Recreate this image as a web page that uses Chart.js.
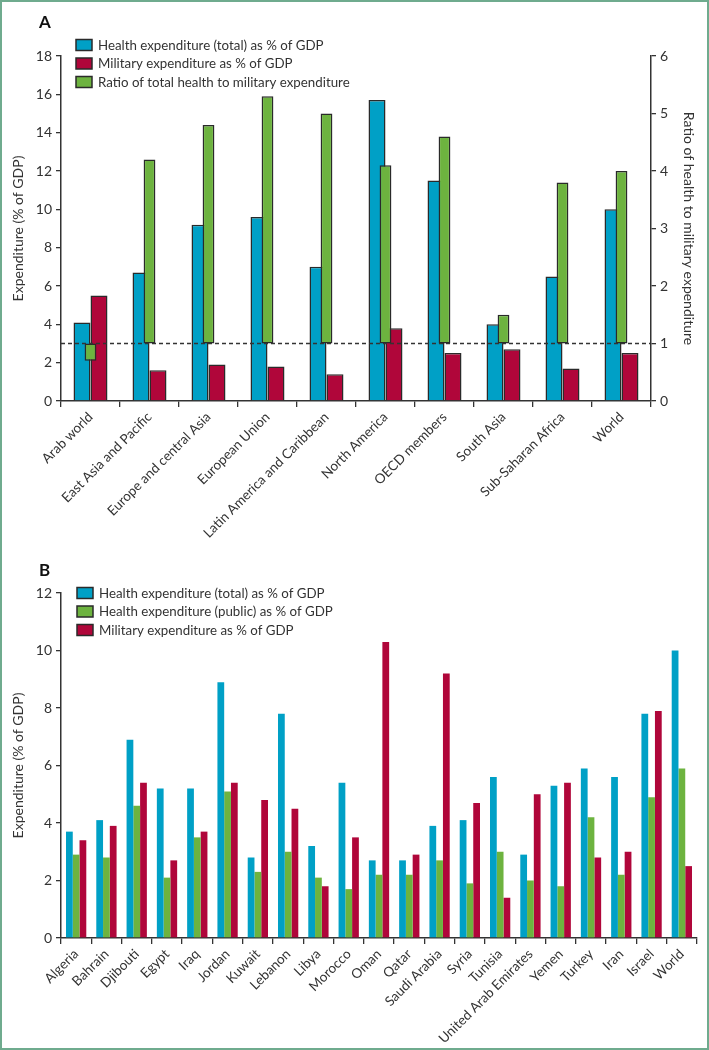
<!DOCTYPE html>
<html>
<head>
<meta charset="utf-8">
<script src="https://cdn.jsdelivr.net/npm/chart.js@4.4.0/dist/chart.umd.min.js"></script>
<style>
  body { margin: 0; background: #fff; }
  #page { position: relative; width: 709px; height: 1050px; }
  #frame { position: absolute; left: 0; top: 0; width: 709px; height: 1050px; box-sizing: border-box; border: 2px solid #6fab8e; pointer-events: none; }
  canvas { position: absolute; left: 0; }
  #chartA { top: 0; }
  #chartB { top: 560px; }
</style>
</head>
<body>
<div id="page">
  <canvas id="chartA" width="709" height="560"></canvas>
  <canvas id="chartB" width="709" height="490"></canvas>
  <div id="frame"></div>
</div>
<script>
// ---------- panel A data ----------
const regions = ['Arab world', 'East Asia and Pacific', 'Europe and central Asia', 'European Union',
  'Latin America and Caribbean', 'North America', 'OECD members', 'South Asia', 'Sub-Saharan Africa', 'World'];
const healthTotalA = [4.1, 6.7, 9.2, 9.6, 7.0, 15.7, 11.5, 4.0, 6.5, 10.0];
const militaryA = [5.5, 1.6, 1.9, 1.8, 1.4, 3.8, 2.5, 2.7, 1.7, 2.5];
const ratioA = [0.7, 4.2, 4.8, 5.3, 5.0, 4.1, 4.6, 1.5, 3.8, 4.0];
const ratioBase = 1; // green bars float from ratio 1 (dashed line)
const legendA = ['Health expenditure (total) as % of GDP', 'Military expenditure as % of GDP',
  'Ratio of total health to military expenditure'];
const yTicksA = [0, 2, 4, 6, 8, 10, 12, 14, 16, 18];
const y1TicksA = [0, 1, 2, 3, 4, 5, 6];

// ---------- panel B data ----------
const countries = ['Algeria', 'Bahrain', 'Djibouti', 'Egypt', 'Iraq', 'Jordan', 'Kuwait', 'Lebanon', 'Libya',
  'Morocco', 'Oman', 'Qatar', 'Saudi Arabia', 'Syria', 'Tunisia', 'United Arab Emirates', 'Yemen', 'Turkey',
  'Iran', 'Israel', 'World'];
const healthTotalB = [3.7, 4.1, 6.9, 5.2, 5.2, 8.9, 2.8, 7.8, 3.2, 5.4, 2.7, 2.7, 3.9, 4.1, 5.6, 2.9, 5.3, 5.9, 5.6, 7.8, 10.0];
const healthPublicB = [2.9, 2.8, 4.6, 2.1, 3.5, 5.1, 2.3, 3.0, 2.1, 1.7, 2.2, 2.2, 2.7, 1.9, 3.0, 2.0, 1.8, 4.2, 2.2, 4.9, 5.9];
const militaryB = [3.4, 3.9, 5.4, 2.7, 3.7, 5.4, 4.8, 4.5, 1.8, 3.5, 10.3, 2.9, 9.2, 4.7, 1.4, 5.0, 5.4, 2.8, 3.0, 7.9, 2.5];
const legendB = ['Health expenditure (total) as % of GDP', 'Health expenditure (public) as % of GDP',
  'Military expenditure as % of GDP'];
const yTicksB = [0, 2, 4, 6, 8, 10, 12];

const BLUE = '#00a0c6';
const RED = '#b0063a';
const GREEN = '#6db33f';
const INK = '#333333';
const FONT = 'Lato';

Chart.defaults.font.family = FONT;
Chart.defaults.color = INK;
Chart.defaults.animation = false;

// legend boxes + panel letter, drawn inside the chart area
function panelDecor(letter, labels, colors, boxX, firstRowY, rowH) {
  return {
    id: 'panelDecor',
    afterDraw(chart) {
      const ctx = chart.ctx;
      ctx.save();
      ctx.fillStyle = '#111';
      ctx.font = 'bold 17px ' + FONT;
      ctx.textBaseline = 'alphabetic';
      ctx.fillText(letter, 39, firstRowY - 17);
      ctx.font = '13.3px ' + FONT;
      ctx.textBaseline = 'middle';
      labels.forEach((txt, i) => {
        const y = firstRowY + i * rowH;
        ctx.fillStyle = colors[i];
        ctx.fillRect(boxX, y - 5.5, 16, 11);
        ctx.strokeStyle = '#2a2a2a';
        ctx.lineWidth = 1.5;
        ctx.strokeRect(boxX, y - 5.5, 16, 11);
        ctx.fillStyle = INK;
        ctx.fillText(txt, boxX + 22, y + 0.5);
      });
      ctx.restore();
    }
  };
}

// dashed reference line at ratio = 1
const ratioLine = {
  id: 'ratioLine',
  afterDatasetsDraw(chart) {
    const {ctx, chartArea, scales} = chart;
    const y = scales.y1.getPixelForValue(ratioBase);
    ctx.save();
    ctx.strokeStyle = INK;
    ctx.lineWidth = 1.5;
    ctx.setLineDash([4, 3]);
    ctx.beginPath();
    ctx.moveTo(chartArea.left, y);
    ctx.lineTo(chartArea.right, y);
    ctx.stroke();
    ctx.restore();
  }
};

function yAxis(ticks, max, width, position, titleText, titlePad) {
  return {
    position: position,
    min: 0,
    max: max,
    afterBuildTicks: s => { s.ticks = ticks.map(v => ({value: v})); },
    afterFit: s => { s.width = width; },
    grid: { drawOnChartArea: false, drawTicks: true, tickLength: 5, tickColor: INK, lineWidth: 1.3 },
    border: { display: true, color: INK, width: 1.5 },
    ticks: { font: { size: 14 }, padding: 4, color: INK },
    title: { display: true, text: titleText, font: { size: 14 }, color: INK, padding: { top: titlePad, bottom: 0 } }
  };
}

function xAxis(labels, height) {
  return {
    type: 'category',
    labels: labels,
    afterFit: s => { s.height = height; },
    grid: { drawOnChartArea: false, drawTicks: true, tickLength: 6, tickColor: INK, lineWidth: 1.3, offset: true },
    border: { display: true, color: INK, width: 1.5 },
    ticks: { font: { size: 13.5 }, color: INK, minRotation: 45, maxRotation: 45, autoSkip: false, padding: 2 }
  };
}

// ---------- chart A ----------
new Chart(document.getElementById('chartA'), {
  type: 'bar',
  data: {
    labels: regions,
    datasets: [
      { label: legendA[0], data: healthTotalA, yAxisID: 'y', backgroundColor: BLUE, borderColor: '#2a2a2a',
        borderWidth: 1.5, categoryPercentage: 0.576, barPercentage: 1, order: 1 },
      { label: legendA[1], data: militaryA, yAxisID: 'y', backgroundColor: RED, borderColor: '#2a2a2a',
        borderWidth: 1.5, categoryPercentage: 0.576, barPercentage: 1, order: 1 },
      { label: legendA[2], data: ratioA.map(r => [ratioBase, r]), yAxisID: 'y1', backgroundColor: GREEN,
        borderColor: '#2a2a2a', borderWidth: 1.5, borderSkipped: false, grouped: false,
        categoryPercentage: 0.2, barPercentage: 1, order: 0 }
    ]
  },
  options: {
    responsive: false,
    layout: { padding: { top: 56, left: 0, right: 0, bottom: 0 } },
    plugins: { legend: { display: false }, tooltip: { enabled: false } },
    scales: {
      x: xAxis(regions, 159),
      y: yAxis(yTicksA, 18, 61, 'left', 'Expenditure (% of GDP)', 10),
      y1: yAxis(y1TicksA, 6, 58, 'right', 'Ratio of health to military expenditure', 12)
    }
  },
  plugins: [ratioLine, panelDecor('A', legendA, [BLUE, RED, GREEN], 76, 45, 18.5)]
});

// ---------- chart B ----------
new Chart(document.getElementById('chartB'), {
  type: 'bar',
  data: {
    labels: countries,
    datasets: [
      { label: legendB[0], data: healthTotalB, backgroundColor: BLUE, categoryPercentage: 0.67, barPercentage: 1 },
      { label: legendB[1], data: healthPublicB, backgroundColor: GREEN, categoryPercentage: 0.67, barPercentage: 1 },
      { label: legendB[2], data: militaryB, backgroundColor: RED, categoryPercentage: 0.67, barPercentage: 1 }
    ]
  },
  options: {
    responsive: false,
    layout: { padding: { top: 33, left: 0, right: 12, bottom: 0 } },
    plugins: { legend: { display: false }, tooltip: { enabled: false } },
    scales: {
      x: xAxis(countries, 112),
      y: yAxis(yTicksB, 12, 61, 'left', 'Expenditure (% of GDP)', 10)
    }
  },
  plugins: [panelDecor('B', legendB, [BLUE, GREEN, RED], 77, 33, 18.5)]
});
</script>
</body>
</html>
